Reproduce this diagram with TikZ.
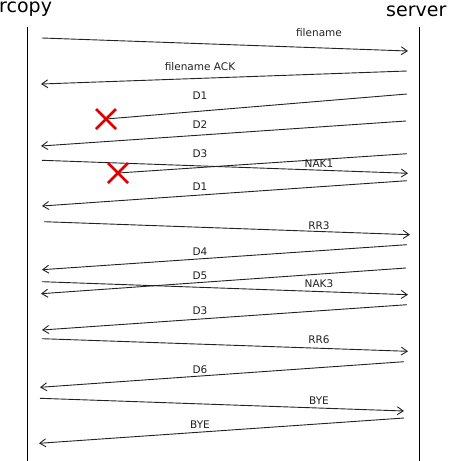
\documentclass[tikz,border=0pt]{standalone}
\usepackage{fontspec}
\setmainfont{DejaVu Sans}
\usetikzlibrary{arrows.meta,calc}
\definecolor{linegrey}{HTML}{222222}
\definecolor{lossred}{HTML}{DD0000}
\begin{document}
\begin{tikzpicture}[x=1pt,y=-1pt,
  msg/.style={draw=linegrey,line width=0.9pt,-{Straight Barb[length=6pt,width=8pt,line width=0.9pt]}},
  lost/.style={draw=linegrey,line width=0.9pt},
  life/.style={draw=black,line width=0.9pt},
  lbl/.style={font=\fontsize{10.5}{12}\selectfont,inner sep=0pt,text=linegrey},
  title/.style={font=\fontsize{19}{22}\selectfont,inner sep=0pt,anchor=base west},
  cross/.style={draw=lossred,line width=2.8pt}]
\useasboundingbox (0,0) rectangle (449,461);
% titles
\node[title] (tl) at (-1,12) {rcopy};
\node[title] (tr) at (386,16) {server};
% lifelines
\coordinate (L0) at (27,27); \coordinate (L1) at (27,461);
\coordinate (R0) at (419,27); \coordinate (R1) at (419,461);
\draw[life] (L0) -- (L1);
\draw[life] (R0) -- (R1);
% message endpoints
\coordinate (a1) at (42,38);    \coordinate (b1) at (408,51);
\coordinate (a2) at (407,71);   \coordinate (b2) at (41,84);
\coordinate (a3) at (407,94);   \coordinate (b3) at (106,119);
\coordinate (a4) at (406,121);  \coordinate (b4) at (41,146);
\coordinate (a5) at (407,153.7);\coordinate (b5) at (118,173);
\coordinate (a6) at (42,160.3); \coordinate (b6) at (408,173.3);
\coordinate (a7) at (407,180.7);\coordinate (b7) at (42,206);
\coordinate (a8) at (44,221.7); \coordinate (b8) at (410,234.7);
\coordinate (a9) at (407,244.7);\coordinate (b9) at (42,269.7);
\coordinate (a10) at (406,268); \coordinate (b10) at (41,293.7);
\coordinate (a11) at (42,281.7);\coordinate (b11) at (408,294.7);
\coordinate (a12) at (407,304.7);\coordinate (b12) at (42,330);
\coordinate (a13) at (42,338.7);\coordinate (b13) at (408,351.3);
\coordinate (a14) at (404,361.7);\coordinate (b14) at (40,387.3);
\coordinate (a15) at (40,398.3);\coordinate (b15) at (404,411);
\coordinate (a16) at (404,418); \coordinate (b16) at (39,443.3);
% messages
\draw[msg] (a1) -- (b1);
\draw[msg] (a2) -- (b2);
\draw[lost] (a3) -- (b3);
\draw[msg] (a4) -- (b4);
\draw[lost] (a5) -- (b5);
\draw[msg] (a6) -- (b6);
\draw[msg] (a7) -- (b7);
\draw[msg] (a8) -- (b8);
\draw[msg] (a9) -- (b9);
\draw[msg] (a10) -- (b10);
\draw[msg] (a11) -- (b11);
\draw[msg] (a12) -- (b12);
\draw[msg] (a13) -- (b13);
\draw[msg] (a14) -- (b14);
\draw[msg] (a15) -- (b15);
\draw[msg] (a16) -- (b16);
% loss crosses
\draw[cross] ($(b3)+(-10,-10)$) -- ($(b3)+(10,10)$) ($(b3)+(-10,10)$) -- ($(b3)+(10,-10)$);
\draw[cross] ($(b5)+(-10,-10)$) -- ($(b5)+(10,10)$) ($(b5)+(-10,10)$) -- ($(b5)+(10,-10)$);
% labels
\node[lbl] (t1) at (319,32.3) {filename};
\node[lbl] (t2) at (200,67) {filename ACK};
\node[lbl] (t3) at (200,95.7) {D1};
\node[lbl] (t4) at (200,125) {D2};
\node[lbl] (t5) at (200,154) {D3};
\node[lbl] (t6) at (319,164) {NAK1};
\node[lbl] (t7) at (200,187) {D1};
\node[lbl] (t8) at (319,226) {RR3};
\node[lbl] (t9) at (200,252) {D4};
\node[lbl] (t10) at (200,276) {D5};
\node[lbl] (t11) at (319,284) {NAK3};
\node[lbl] (t12) at (200,311) {D3};
\node[lbl] (t13) at (319,340) {RR6};
\node[lbl] (t14) at (200,370) {D6};
\node[lbl] (t15) at (319,401) {BYE};
\node[lbl] (t16) at (200,425) {BYE};
\end{tikzpicture}
\end{document}
